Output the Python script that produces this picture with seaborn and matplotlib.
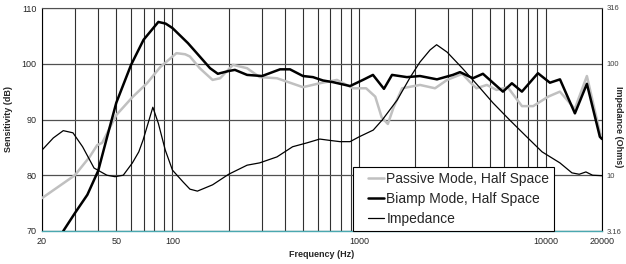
import numpy as np
import pandas as pd
import seaborn as sns
import matplotlib
matplotlib.use("Agg")
import matplotlib.pyplot as plt
from matplotlib.ticker import LogLocator, NullFormatter, FixedLocator, FixedFormatter, NullLocator
from matplotlib.lines import Line2D
from matplotlib.legend_handler import HandlerLine2D

sns.set_style("white")
plt.rcParams['font.family'] = ['Liberation Sans', 'DejaVu Sans']

# values
passive_freq = [20, 30, 36, 39.5, 42, 50, 61, 73, 86, 105, 117, 124, 140, 164, 180, 211, 251, 293, 363,
                500, 615, 760, 930, 1090, 1220, 1320, 1425, 1530, 1700, 2118, 2550, 2960, 3570, 3900,
                4250, 4830, 5450, 6250, 7450, 8560, 10300, 11900, 14300, 16600, 19500, 20000]
passive_db = [75.9, 80, 83.3, 85.4, 85.8, 90.8, 94, 96.5, 99.4, 101.9, 101.7, 101.3, 99.2, 97.1, 97.4,
              99.8, 99.2, 97.6, 97.4, 95.8, 96.5, 97.1, 95.6, 95.6, 94.1, 90.4, 89.2, 92.2, 95.6, 96.2,
              95.6, 97.1, 98.2, 96.8, 95.6, 96.2, 95.3, 95.8, 92.4, 92.4, 94.1, 95, 91.9, 97.8, 87.6, 87]

biamp_freq = [26, 30, 35, 40, 45, 50, 60, 70, 84, 92, 100, 121, 135, 159, 175, 200, 216, 251, 302, 377,
              426, 500, 566, 640, 724, 894, 1048, 1186, 1358, 1500, 1803, 2118, 2612, 3178, 3470, 4068,
              4604, 5892, 6580, 7448, 9074, 10520, 11910, 14320, 16600, 19480, 20000]
biamp_db = [70, 73.2, 76.5, 80.8, 87.3, 93, 99.8, 104.3, 107.5, 107.2, 106.4, 103.7, 101.9, 99.2, 98.2,
            98.7, 98.9, 98, 97.8, 99, 99, 97.8, 97.6, 97, 96.7, 96, 97.1, 98, 95.5, 98, 97.6, 97.8, 97.2,
            98, 98.5, 97.4, 98.2, 95, 96.5, 95, 98.3, 96.6, 97.2, 91.1, 96.4, 86.9, 86.5]

imp_freq = [20, 23, 26, 29.3, 33, 38, 44.5, 49.2, 54.5, 61, 66, 69.6, 74, 78.5, 84, 91.5, 100, 114, 124,
            136, 164, 200, 251, 293, 363, 440, 525, 615, 700, 790, 894, 1000, 1190, 1330, 1600, 1880,
            2118, 2400, 2600, 2960, 3570, 4400, 5200, 6400, 7900, 9550, 11900, 13800, 15100, 16400,
            17800, 20000]
imp_ohms = [16.8, 21.6, 25.1, 24.0, 18.0, 11.6, 10.0, 9.7, 10.0, 12.9, 16.2, 20.7, 29.2, 40.7, 29.2,
            16.8, 11.1, 8.7, 7.5, 7.2, 8.2, 10.2, 12.3, 12.9, 14.6, 18.0, 19.5, 21.1, 20.5, 20.0, 20.0,
            22.1, 25.4, 31.3, 47.3, 75.9, 103.5, 133, 148, 127, 91.2, 61.7, 44.7, 31.3, 22.1, 16.2,
            12.9, 10.5, 10.2, 10.7, 10.0, 9.9]

x_ticks = [20, 50, 100, 1000, 10000, 20000]
y_ticks = [70, 80, 90, 100, 110]
imp_ticks = [3.16, 10, 100, 316]
imp_labels = ["3.16", "10", "100", "316"]

passive = pd.DataFrame({"freq": passive_freq, "db": passive_db})
biamp = pd.DataFrame({"freq": biamp_freq, "db": biamp_db})
imp = pd.DataFrame({"freq": imp_freq, "ohms": imp_ohms})

fig = plt.figure(figsize=(6.26, 2.64), dpi=100)
ax = fig.add_axes([42 / 626, 1 - 231 / 264, 560 / 626, 223 / 264])

ax.set_xscale("log")
ax.set_xlim(20, 20000)
ax.set_ylim(70, 110)
ax.xaxis.set_major_locator(FixedLocator(x_ticks))
ax.xaxis.set_major_formatter(FixedFormatter([str(t) for t in x_ticks]))
ax.xaxis.set_minor_locator(LogLocator(base=10, subs=np.arange(1, 10)))
ax.xaxis.set_minor_formatter(NullFormatter())
ax.set_yticks(y_ticks)
ax.tick_params(axis="both", which="both", length=0, labelsize=6.5, pad=4)
ax.grid(True, which="both", axis="x", color="#303030", lw=0.8)
ax.grid(True, which="major", axis="y", color="#505050", lw=0.9)

sns.lineplot(data=passive, x="freq", y="db", ax=ax, color="#c0c0c0", lw=1.8, zorder=3)
sns.lineplot(data=biamp, x="freq", y="db", ax=ax, color="black", lw=1.8, zorder=4)
ax.set_xlabel("Frequency (Hz)", fontsize=6.5, fontweight="bold", labelpad=3)
ax.set_ylabel("Sensitivity (dB)", fontsize=6.5, fontweight="bold", labelpad=6)

for s in ["left", "right", "top"]:
    ax.spines[s].set_color("black")
    ax.spines[s].set_linewidth(0.8)
ax.spines["top"].set_color("#505050")
ax.spines["bottom"].set_color("#4aa8b0")
ax.spines["bottom"].set_linewidth(1.0)

# impedance on its own log axis
ax2 = ax.twinx()
ax2.set_yscale("log")
ax2.set_ylim(3.16, 316)
sns.lineplot(data=imp, x="freq", y="ohms", ax=ax2, color="black", lw=0.9, zorder=5)
ax2.yaxis.set_major_locator(FixedLocator(imp_ticks))
ax2.yaxis.set_major_formatter(FixedFormatter(imp_labels))
ax2.yaxis.set_minor_locator(NullLocator())
ax2.tick_params(axis="y", length=0, labelsize=5.5, pad=3, labelcolor="#404040")
ax2.set_ylabel("")
ax2.set_xlabel("")
ax2.grid(False)
for s in ax2.spines.values():
    s.set_visible(False)
fig.text(619 / 626, 0.52, "Impedance (Ohms)", rotation=-90, fontsize=6.5, fontweight="bold",
         ha="center", va="center")

handles = [
    Line2D([], [], color="#c0c0c0", lw=1.8),
    Line2D([], [], color="black", lw=1.8),
    Line2D([], [], color="black", lw=0.9),
]
labels = ["Passive Mode, Half Space", "Biamp Mode, Half Space", "Impedance"]
leg = ax2.legend(handles, labels, loc="lower left", bbox_to_anchor=(0.555, 0.0), borderaxespad=0,
                 fontsize=10, frameon=True, fancybox=False, framealpha=1, edgecolor="black",
                 handlelength=1.87, handletextpad=0.2, labelspacing=0.45, borderpad=0.35,
                 handler_map={Line2D: HandlerLine2D(xpad=0.72)})
leg.get_frame().set_linewidth(0.8)
leg.set_zorder(10)

fig.savefig("out.png", dpi=100)
